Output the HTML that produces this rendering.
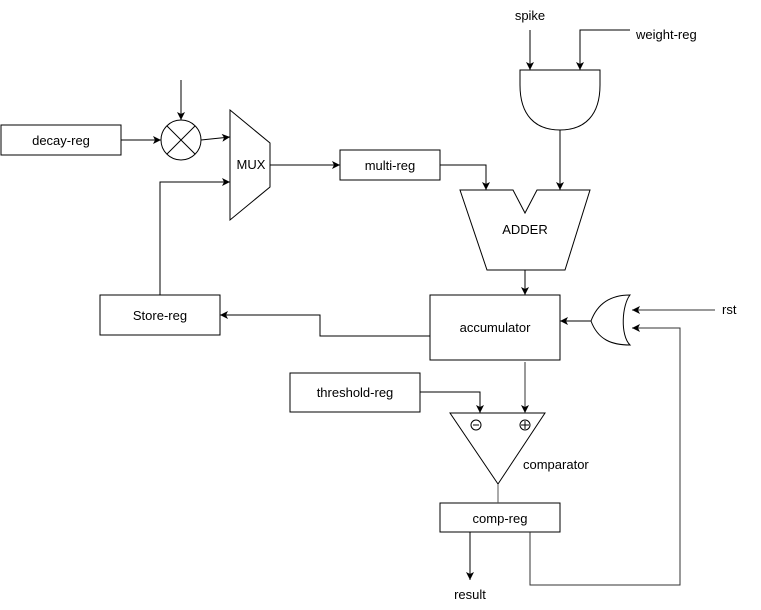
<!DOCTYPE html>
<html><head><meta charset="utf-8"><style>
html,body{margin:0;padding:0;background:#fff;}
svg{display:block;}
text{font-family:"Liberation Sans",sans-serif;font-size:13px;fill:#000;}
</style></head><body>
<svg width="761" height="610" viewBox="0 0 761 610" xmlns="http://www.w3.org/2000/svg">
<defs>
<marker id="a" markerWidth="10" markerHeight="10" refX="8" refY="5" orient="auto" markerUnits="userSpaceOnUse">
<path d="M0,1 L8,5 L0,9 L2,5 Z" fill="#000"/>
</marker>
</defs>
<g fill="#fff" stroke="#000" stroke-width="1">
<rect x="1" y="125" width="120" height="30"/>
<circle cx="181" cy="140" r="20"/>
<path d="M167,126 L195,154 M195,126 L167,154" fill="none"/>
<path d="M230,110 L270,143 L270,187 L230,220 Z"/>
<rect x="340" y="150" width="100" height="30"/>
<path d="M460,190 L513,190 L525,213 L537,190 L590,190 L565,270 L487,270 Z"/>
<path d="M520,70 L600,70 L600,85 C600,115 585,130 560,130 C535,130 520,115 520,85 Z"/>
<rect x="430" y="295" width="130" height="65"/>
<path d="M630,295 C622,305 620,335 630,345 C612,345 598,340 591,321 C598,302 612,295 630,295 Z"/>
<rect x="100" y="295" width="120" height="40"/>
<rect x="290" y="373" width="130" height="39"/>
<path d="M450,413 L545,413 L498,484 Z"/>
<rect x="440" y="503" width="120" height="29"/>
</g>
<g fill="none" stroke="#000" stroke-width="1">
<path d="M121,140 H161" marker-end="url(#a)"/>
<path d="M181,80 V120" marker-end="url(#a)"/>
<path d="M201,140 L230,137" marker-end="url(#a)"/>
<path d="M270,165 H340" marker-end="url(#a)"/>
<path d="M440,165 H486 V190" marker-end="url(#a)"/>
<path d="M530,30 V70" marker-end="url(#a)"/>
<path d="M630,30 H580 V70" marker-end="url(#a)"/>
<path d="M560,130 V190" marker-end="url(#a)"/>
<path d="M525,270 V295" marker-end="url(#a)"/>
<path d="M591,321 H560" marker-end="url(#a)"/>
<path d="M715,310 H632" marker-end="url(#a)" stroke="#333"/>
<path d="M530,532 V585 H680 V328 H632" marker-end="url(#a)" stroke="#333"/>
<path d="M430,336 H320 V315 H220" marker-end="url(#a)"/>
<path d="M160,295 V182 H230" marker-end="url(#a)"/>
<path d="M420,392 H480 V413" marker-end="url(#a)"/>
<path d="M525,362 V413" marker-end="url(#a)" stroke="#333"/>
<path d="M498,484 V503" stroke="#555"/>
<path d="M470,532 V580" marker-end="url(#a)"/>
<circle cx="476" cy="425" r="5"/>
<path d="M473,425 H479"/>
<circle cx="525" cy="425" r="5"/>
<path d="M521,425 H529 M525,421 V429"/>
</g>
<text x="61" y="145" text-anchor="middle">decay-reg</text>
<text x="251" y="169" text-anchor="middle">MUX</text>
<text x="390" y="170" text-anchor="middle">multi-reg</text>
<text x="525" y="234" text-anchor="middle">ADDER</text>
<text x="530" y="20" text-anchor="middle">spike</text>
<text x="636" y="39">weight-reg</text>
<text x="495" y="332" text-anchor="middle">accumulator</text>
<text x="722" y="314">rst</text>
<text x="160" y="320" text-anchor="middle">Store-reg</text>
<text x="355" y="397" text-anchor="middle">threshold-reg</text>
<text x="523" y="469">comparator</text>
<text x="500" y="523" text-anchor="middle">comp-reg</text>
<text x="470" y="599" text-anchor="middle">result</text>
</svg>
</body></html>
